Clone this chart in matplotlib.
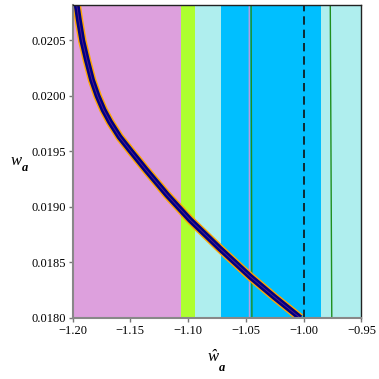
import matplotlib.pyplot as plt

plt.rcParams['font.family'] = ['Liberation Serif', 'DejaVu Serif']

# colour bands (x from, x to, colour)
band_lo = [-1.20, -1.106, -1.0938, -1.0716, -0.9849]
band_hi = [-1.106, -1.0938, -1.0716, -0.9849, -0.95]
band_col = ["#dda0dd", "#adff2f", "#afeeee", "#00bfff", "#afeeee"]

# curve
cx = [-1.1964, -1.1945, -1.1915, -1.1876, -1.1831, -1.1783, -1.1731, -1.1675,
      -1.1593, -1.1497, -1.1363, -1.1181, -1.0982, -1.0726, -1.0462, -1.0254,
      -1.0029]
cy = [0.020820, 0.020685, 0.020498, 0.020324, 0.020144, 0.020000, 0.019874,
      0.019766, 0.019631, 0.019505, 0.019333, 0.019108, 0.018883, 0.018626,
      0.018372, 0.018189, 0.018000]

# thin vertical lines (x top, x bottom)
ln_top = [-1.0471, -1.0455, -0.9770]
ln_bot = [-1.0469, -1.0448, -0.9757]
ln_col = ["#b89ee0", "#1f8f1f", "#1f8f1f"]

xticks = [-1.20, -1.15, -1.10, -1.05, -1.00, -0.95]
yticks = [0.0180, 0.0185, 0.0190, 0.0195, 0.0200, 0.0205]
ylim = (0.0180, 0.02082)

fig = plt.figure(figsize=(3.79, 3.79), dpi=100)
ax = fig.add_axes([0.1913, 0.161, 0.7625, 0.826])

for lo, hi, c in zip(band_lo, band_hi, band_col):
    ax.axvspan(lo, hi, color=c, lw=0)

for xt, xb, c in zip(ln_top, ln_bot, ln_col):
    ax.plot([xb, xt], ylim, color=c, lw=1.0)

ax.axvline(-1.00, color="#111111", lw=1.2, ls=(0, (5, 3)))

# curve: orange edge, navy body, purple core
ax.plot(cx, cy, color="orange", lw=6.2, solid_capstyle="butt", solid_joinstyle="round")
ax.plot(cx, cy, color="#000080", lw=4.2, solid_capstyle="butt", solid_joinstyle="round")
ax.plot(cx, cy, color="#5a1a8a", lw=0.6)

ax.set_xlim(-1.20, -0.95)
ax.set_ylim(*ylim)
ax.set_xticks(xticks)
ax.set_xticklabels([f"{t:.2f}".replace("-", "\u2212") for t in xticks])
ax.set_yticks(yticks)
ax.set_yticklabels([f"{t:.4f}" for t in yticks])
ax.tick_params(labelsize=9, length=3, width=1, color="#777777", pad=2)

for s in ["left", "bottom"]:
    ax.spines[s].set_color("#888888")
    ax.spines[s].set_linewidth(1.5)
for s in ["top", "right"]:
    ax.spines[s].set_color("#222222")
    ax.spines[s].set_linewidth(1.0)

# axis labels
fig.text(0.028, 0.575, "w", fontsize=12, style="italic", ha="left", va="center")
fig.text(0.058, 0.558, "a", fontsize=9, style="italic", weight="bold",
         ha="left", va="center")
fig.text(0.548, 0.058, "\u0175", fontsize=12, style="italic", ha="left", va="center")
fig.text(0.578, 0.03, "a", fontsize=9, style="italic", weight="bold",
         ha="left", va="center")

fig.savefig("out.png", dpi=100)
